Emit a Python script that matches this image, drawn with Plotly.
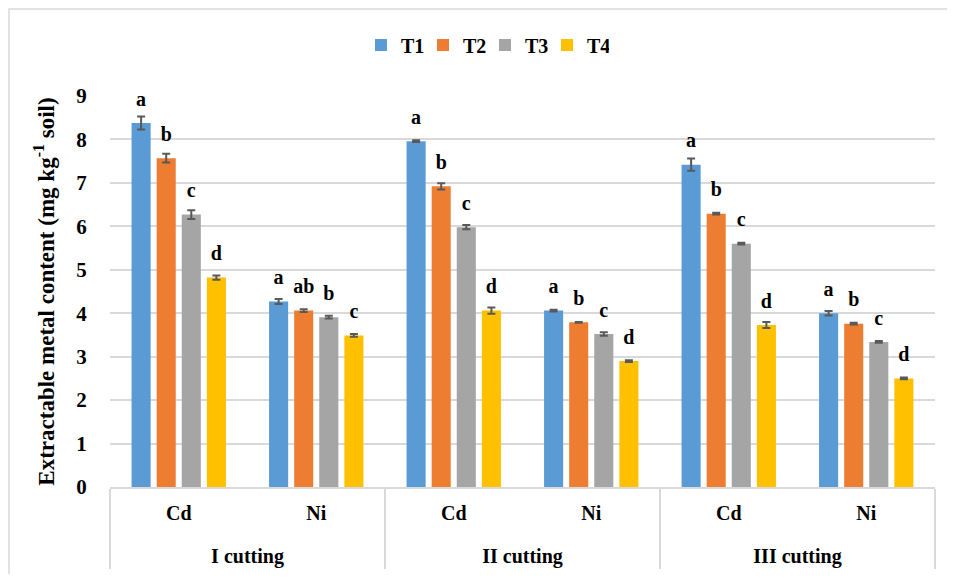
import plotly.graph_objects as go

cuttings = ["I cutting", "I cutting", "II cutting", "II cutting", "III cutting", "III cutting"]
metals = ["Cd", "Ni", "Cd", "Ni", "Cd", "Ni"]
series_names = ["T1", "T2", "T3", "T4"]
colors = ["#5B9BD5", "#ED7D31", "#A5A5A5", "#FFC000"]

T1 = [8.38, 4.27, 7.96, 4.06, 7.42, 4.00]
T2 = [7.57, 4.06, 6.92, 3.79, 6.29, 3.76]
T3 = [6.27, 3.91, 5.98, 3.52, 5.60, 3.34]
T4 = [4.82, 3.49, 4.06, 2.90, 3.73, 2.50]

E1 = [0.15, 0.06, 0.02, 0.02, 0.14, 0.05]
E2 = [0.10, 0.03, 0.07, 0.01, 0.02, 0.02]
E3 = [0.10, 0.03, 0.05, 0.04, 0.02, 0.02]
E4 = [0.05, 0.03, 0.07, 0.02, 0.07, 0.02]

L1 = ["a", "a", "a", "a", "a", "a"]
L2 = ["b", "ab", "b", "b", "b", "b"]
L3 = ["c", "b", "c", "c", "c", "c"]
L4 = ["d", "c", "d", "d", "d", "d"]

values = [T1, T2, T3, T4]
errors = [E1, E2, E3, E4]
letters = [L1, L2, L3, L4]

FONT = "Times New Roman, Liberation Serif, Tinos, serif"
OFF = 8  # page body margin
W, H = 955 - 2 * OFF, 582 - 2 * OFF
ML, MT = 110 - OFF, 96 - OFF
PW, PH = 825, 391
MR, MB = W - ML - PW, H - MT - PH

fig = go.Figure()
x = [["<br>" + c for c in cuttings], metals]
for i, name in enumerate(series_names):
    fig.add_trace(go.Bar(
        x=x, y=values[i], name=name, marker_color=colors[i],
        marker_line_width=0, offsetgroup=str(i),
        error_y=dict(type="data", array=errors[i], color="#595959",
                     thickness=2, width=4),
    ))
for i, name in enumerate(series_names):
    fig.add_trace(go.Scatter(
        x=x, y=values[i], mode="markers+text", text=letters[i],
        textposition="top center", offsetgroup=str(i), showlegend=False,
        marker=dict(size=18, opacity=0), hoverinfo="skip",
        textfont=dict(family=FONT, size=20, color="black", weight="bold"),
        cliponaxis=False,
    ))
# empty spacer entry so the last legend label is not clipped
fig.add_trace(go.Scatter(
    x=[], y=[], mode="markers", name=" ", offsetgroup="0",
    marker=dict(size=1, opacity=0), hoverinfo="skip", showlegend=True,
))

fig.update_layout(
    width=W, height=H,
    margin=dict(l=ML, r=MR, t=MT, b=MB, autoexpand=False),
    paper_bgcolor="white", plot_bgcolor="white",
    barmode="group", bargap=0.27, bargroupgap=0.24,
    scattermode="group", scattergap=0.27,
    font=dict(family=FONT, size=19, color="black", weight="bold"),
    legend=dict(orientation="h", x=(361 - 110) / PW, xanchor="left",
                y=(PH + MT - (45 - OFF)) / PH, yanchor="middle",
                font=dict(family=FONT, size=20, color="black", weight="bold"),
                itemwidth=30, entrywidth=17, entrywidthmode="pixels",
                tracegroupgap=0),
    showlegend=True,
)
fig.update_xaxes(
    type="multicategory", showline=True, linecolor="#D9D9D9", linewidth=1.5,
    showdividers=True, dividercolor="#D9D9D9", dividerwidth=1.5,
    tickfont=dict(family=FONT, size=20, color="black", weight="bold"),
    ticklabelstandoff=7, automargin=False,
    showgrid=False, ticks="",
)
fig.update_yaxes(
    range=[0, 9], dtick=1, showgrid=True, gridcolor="#D9D9D9", gridwidth=1.5,
    zeroline=False, showline=False, automargin=False,
    ticks="outside", ticklen=18, tickcolor="rgba(0,0,0,0)",
    tickfont=dict(family=FONT, size=21, color="black", weight="bold"),
    title=dict(text="Extractable metal content (mg kg<sup>-1</sup> soil)",
               font=dict(family=FONT, size=23, color="black", weight="bold"),
               standoff=15),
)
fig.add_shape(type="rect", xref="paper", yref="paper",
              x0=(9 - 110) / PW, x1=(1000 - 110) / PW,
              y0=(PH + MT - 620) / PH, y1=(PH + MT - (9 - OFF)) / PH,
              line=dict(color="#D9D9D9", width=1.5), fillcolor="rgba(0,0,0,0)",
              layer="below")

fig.write_html("out.html")
